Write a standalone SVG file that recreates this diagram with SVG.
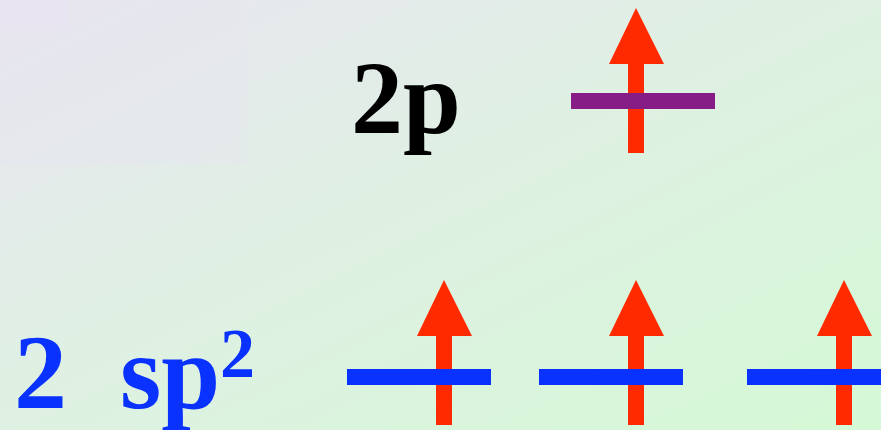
<svg xmlns="http://www.w3.org/2000/svg" width="881" height="430" viewBox="0 0 881 430">
<defs>
<linearGradient id="bg" x1="0" y1="0" x2="1" y2="1">
<stop offset="0" stop-color="#e9e5f1"/>
<stop offset="0.45" stop-color="#dff0e3"/>
<stop offset="1" stop-color="#d5f9d6"/>
</linearGradient>
<g id="up">
<rect x="-8" y="0" width="16" height="89" fill="#ff2a00"/>
<polygon points="-27,0 28,0 0,-56" fill="#ff2a00"/>
</g>
<style>
.lbl{font-family:"Liberation Serif","Times New Roman",serif;font-weight:bold}
.blue{fill:#0a32ff}
</style>
</defs>
<rect width="881" height="430" fill="url(#bg)"/>
<rect x="0" y="0" width="247" height="165" fill="#e6e6ee" opacity="0.5"/>
<rect x="0" y="0" width="67" height="30" fill="#e9e4f1" opacity="0.8"/>
<g id="level-2p">
<text class="lbl" x="351" y="133" font-size="104" fill="#000">2p</text>
<use href="#up" x="636" y="64"/>
<rect x="571" y="93" width="144" height="16" fill="#861c86"/>
</g>
<g id="level-sp2">
<text class="lbl blue" x="14" y="408" font-size="106">2</text>
<text class="lbl blue" x="120" y="408" font-size="106">sp</text>
<text class="lbl blue" x="220" y="377" font-size="70">2</text>
<g id="sp2-a"><use href="#up" x="444" y="336"/><rect x="347" y="369" width="144" height="16" fill="#0a32ff"/></g>
<g id="sp2-b"><use href="#up" x="636" y="336"/><rect x="539" y="369" width="144" height="16" fill="#0a32ff"/></g>
<g id="sp2-c"><use href="#up" x="844" y="336"/><rect x="747" y="369" width="144" height="16" fill="#0a32ff"/></g>
</g>
<g id="connectors"/>
</svg>
